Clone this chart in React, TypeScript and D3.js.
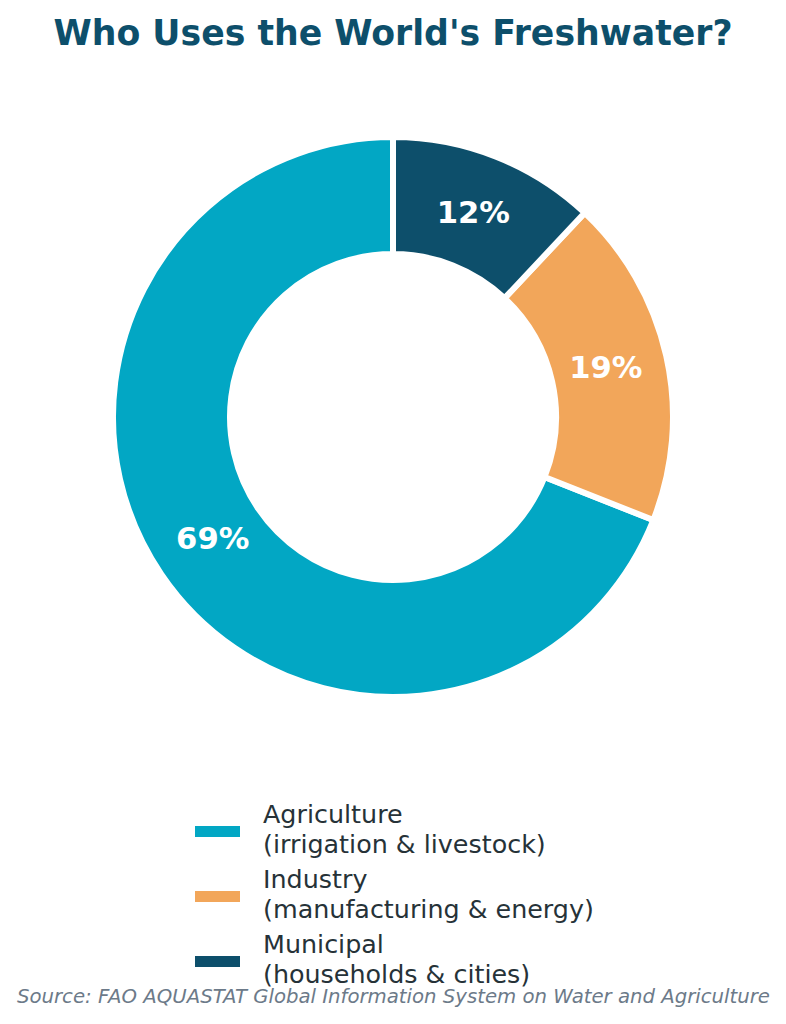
import React from "react";
import * as d3 from "d3";

const categories = ["Agriculture", "Industry", "Municipal"];
const legendLines = [
  ["Agriculture", "(irrigation & livestock)"],
  ["Industry", "(manufacturing & energy)"],
  ["Municipal", "(households & cities)"],
];
const values = [69, 19, 12];
const colors = ["#02a7c4", "#f2a65a", "#0d4f6b"];

const W = 786;
const H = 1024;
const cx = 393;
const cy = 417;
const outerR = 280;
const innerR = 163;
const stroke = 6;
const labelR = 218;
const font = "'DejaVu Sans', sans-serif";

export default function App() {
  const pie = d3
    .pie<number>()
    .sort(null)
    .value((d) => d)
    .startAngle(2 * Math.PI)
    .endAngle(0);
  const arcs = pie(values);
  const arcGen = d3.arc<d3.PieArcDatum<number>>().innerRadius(innerR).outerRadius(outerR);
  const total = d3.sum(values);

  return (
    <div style={{ position: "absolute", left: 0, top: 0, width: W, height: H, background: "#fff" }}>
      <svg width={W} height={H} style={{ display: "block" }}>
        <text
          x={393}
          y={45}
          textAnchor="middle"
          fontFamily={font}
          fontWeight="bold"
          fontSize={34.7}
          fill="#0d4f6b"
        >
          Who Uses the World's Freshwater?
        </text>
        <g transform={`translate(${cx},${cy})`}>
          {arcs.map((a, i) => (
            <path key={categories[i]} d={arcGen(a) || ""} fill={colors[i]} stroke="#fff" strokeWidth={stroke} strokeLinejoin="miter" />
          ))}
          {arcs.map((a, i) => {
            const mid = (a.startAngle + a.endAngle) / 2;
            const x = labelR * Math.sin(mid);
            const y = -labelR * Math.cos(mid);
            return (
              <text
                key={"l" + i}
                x={x}
                y={y + 9}
                textAnchor="middle"
                fontFamily={font}
                fontWeight="bold"
                fontSize={30.6}
                fill="#fff"
              >
                {`${Math.round((values[i] / total) * 100)}%`}
              </text>
            );
          })}
        </g>
        <g fontFamily={font} fontSize={25.4} fill="#263238">
          {legendLines.map((lines, i) => {
            const y0 = 823 + i * 65;
            return (
              <g key={"lg" + i}>
                <rect x={195} y={y0 + 3} width={45} height={11} fill={colors[i]} />
                <text x={263} y={y0}>{lines[0]}</text>
                <text x={263} y={y0 + 29.5}>{lines[1]}</text>
              </g>
            );
          })}
        </g>
        <text x={17} y={1003} fontFamily={font} fontStyle="italic" fontSize={19.7} fill="#6c7a89">
          Source: FAO AQUASTAT Global Information System on Water and Agriculture
        </text>
      </svg>
    </div>
  );
}
